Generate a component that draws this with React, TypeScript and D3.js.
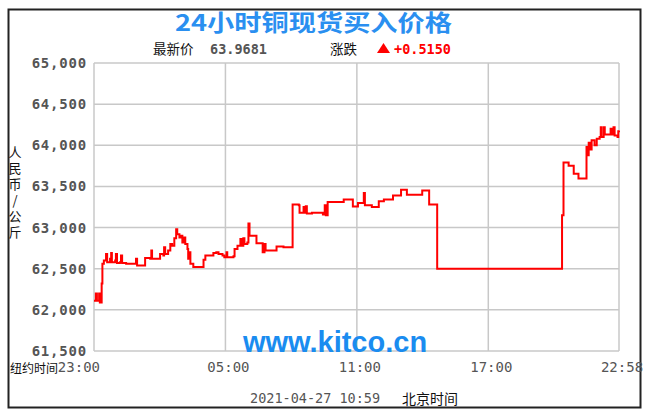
import * as d3 from "d3";
import { useEffect, useRef } from "react";

// minutes after 23:00 (New York time) and price in yuan / kg * 1000
const minutes = [0, 5, 8, 14, 16, 21, 23, 27, 33, 36, 44, 47, 49, 58, 60, 63, 71, 74, 77, 88, 113, 115, 118, 135, 140, 154, 157, 159, 176, 181, 190, 192, 195, 203, 209, 214, 220, 225, 228, 234, 239, 242, 247, 250, 256, 258, 261, 264, 272, 286, 300, 305, 319, 327, 335, 341, 352, 357, 363, 365, 382, 385, 393, 401, 404, 409, 412, 420, 423, 426, 434, 445, 459, 462, 467, 470, 497, 500, 519, 541, 544, 561, 563, 572, 574, 577, 580, 583, 597, 627, 632, 635, 640, 684, 709, 723, 736, 739, 742, 761, 780, 794, 819, 841, 857, 899, 918, 940, 1282, 1286, 1300, 1314, 1327, 1349, 1352, 1355, 1360, 1363, 1371, 1377, 1385, 1388, 1390, 1396, 1399, 1412, 1415, 1418, 1423, 1426, 1434, 1436, 1438];
const prices = [62110, 62200, 62110, 62200, 62090, 62320, 62560, 62600, 62680, 62580, 62620, 62690, 62580, 62600, 62680, 62570, 62580, 62660, 62570, 62560, 62560, 62620, 62540, 62540, 62630, 62620, 62720, 62620, 62620, 62680, 62660, 62760, 62680, 62720, 62800, 62780, 62870, 62980, 62920, 62880, 62900, 62820, 62880, 62800, 62740, 62620, 62700, 62560, 62520, 62520, 62610, 62660, 62660, 62690, 62700, 62680, 62660, 62640, 62700, 62640, 62650, 62740, 62780, 62860, 62780, 62870, 62800, 62820, 63050, 62900, 62900, 62810, 62810, 62700, 62800, 62720, 62720, 62770, 62760, 62760, 63280, 63270, 63180, 63180, 63250, 63180, 63260, 63170, 63180, 63160, 63270, 63150, 63310, 63340, 63255, 63300, 63300, 63420, 63270, 63250, 63320, 63340, 63390, 63460, 63400, 63450, 63280, 62500, 63150, 63790, 63750, 63655, 63595, 63980, 63880, 64030, 63950, 64060, 64000, 64080, 64100, 64220, 64100, 64220, 64130, 64130, 64200, 64130, 64220, 64120, 64100, 64170, 64180];

const yTicks = [61500, 62000, 62500, 63000, 63500, 64000, 64500, 65000];
const xTicks = [0, 360, 720, 1080, 1438];
const xTickLabels = ["23:00", "05:00", "11:00", "17:00", "22:58"];
const yTitle = "人民币/公斤";

const mono = "'DejaVu Sans Mono', monospace";
const cjk = "'Noto Sans CJK SC', sans-serif";

const App = () => {
  const svgRef = useRef<SVGSVGElement>(null);

  useEffect(() => {
    const w = 652;
    const h = 420;
    const svg = d3.select(svgRef.current).attr("width", w).attr("height", h);
    svg.selectAll("*").remove();

    const x = d3.scaleLinear().domain([0, 1438]).range([94, 619]);
    const y = d3.scaleLinear().domain([61500, 65000]).range([351, 63]);

    svg.append("rect").attr("width", w).attr("height", h).attr("fill", "#fff");
    svg.append("rect")
      .attr("x", 8.5).attr("y", 9.5).attr("width", 632).attr("height", 398)
      .attr("fill", "#fff").attr("stroke", "#222").attr("stroke-width", 2);

    // grid
    svg.append("g").selectAll("line").data(yTicks).join("line")
      .attr("x1", 94).attr("x2", 619)
      .attr("y1", d => y(d)).attr("y2", d => y(d))
      .attr("stroke", "#c8c8c8").attr("stroke-width", 1.5);
    svg.append("g").selectAll("line").data(xTicks).join("line")
      .attr("x1", d => x(d)).attr("x2", d => x(d))
      .attr("y1", 63).attr("y2", 351)
      .attr("stroke", "#c8c8c8").attr("stroke-width", 1.5);

    // y labels
    svg.append("g").selectAll("text").data(yTicks).join("text")
      .attr("x", 87).attr("y", d => y(d) + 5)
      .attr("text-anchor", "end")
      .attr("font-family", mono).attr("font-weight", "bold").attr("font-size", 14)
      .attr("letter-spacing", 0.8)
      .attr("fill", "#555")
      .text(d => d3.format(",.3f")(d / 1000).replace(".", ","));

    // y title, written top to bottom
    svg.append("text")
      .attr("x", 15).attr("y", 146)
      .style("writing-mode", "vertical-rl")
      .style("text-orientation", "upright")
      .attr("letter-spacing", 3)
      .attr("font-family", cjk).attr("font-size", 13).attr("fill", "#111")
      .text(yTitle);

    // watermark
    svg.append("text").attr("x", 335).attr("y", 352)
      .attr("text-anchor", "middle")
      .attr("font-family", "'Liberation Sans', Arial, sans-serif")
      .attr("font-weight", "bold").attr("font-size", 29).attr("fill", "#1a8cf0")
      .text("www.kitco.cn");

    // x labels
    svg.append("g").selectAll("text").data(xTicks).join("text")
      .attr("x", (d, i) => (i === 0 ? x(d) + 6 : x(d) + 3))
      .attr("y", 372)
      .attr("text-anchor", (d, i) => (i === 0 ? "end" : "middle"))
      .attr("font-family", mono).attr("font-size", 14).attr("fill", "#555")
      .text((d, i) => xTickLabels[i]);
    svg.append("text").attr("x", 10).attr("y", 373)
      .attr("font-family", cjk).attr("font-size", 12).attr("fill", "#111")
      .text("纽约时间");

    // price line
    const line = d3.line<number>()
      .x((d, i) => x(minutes[i]))
      .y(d => y(d))
      .curve(d3.curveStepAfter);
    svg.append("path").datum(prices)
      .attr("d", line)
      .attr("fill", "none").attr("stroke", "#ff0000").attr("stroke-width", 2);

    // title
    svg.append("text").attr("x", 175).attr("y", 31)
      .attr("textLength", 277).attr("lengthAdjust", "spacingAndGlyphs")
      .attr("font-family", cjk).attr("font-weight", "bold").attr("font-size", 23)
      .attr("fill", "#2a8ff0")
      .text("24小时铜现货买入价格");

    const sub = svg.append("g").attr("font-size", 13.5);
    sub.append("text").attr("x", 153).attr("y", 54)
      .attr("font-family", cjk).attr("fill", "#111").text("最新价");
    sub.append("text").attr("x", 210).attr("y", 54)
      .attr("font-family", mono).attr("font-weight", "bold").attr("fill", "#555")
      .text("63.9681");
    sub.append("text").attr("x", 330).attr("y", 54)
      .attr("font-family", cjk).attr("fill", "#111").text("涨跌");
    sub.append("path").attr("d", "M377,53 L390,53 L383.5,43 Z").attr("fill", "#ff0000");
    sub.append("text").attr("x", 394).attr("y", 54)
      .attr("font-family", mono).attr("font-weight", "bold").attr("fill", "#ff0000")
      .text("+0.5150");

    // bottom date
    svg.append("text").attr("x", 250).attr("y", 403)
      .attr("font-family", mono).attr("font-size", 13.5).attr("fill", "#555")
      .text("2021-04-27 10:59");
    svg.append("text").attr("x", 402).attr("y", 404)
      .attr("font-family", cjk).attr("font-size", 14).attr("fill", "#111")
      .text("北京时间");
  }, []);

  return (
    <svg ref={svgRef} style={{ position: "absolute", left: 0, top: 0 }}></svg>
  );
};

export default App;
